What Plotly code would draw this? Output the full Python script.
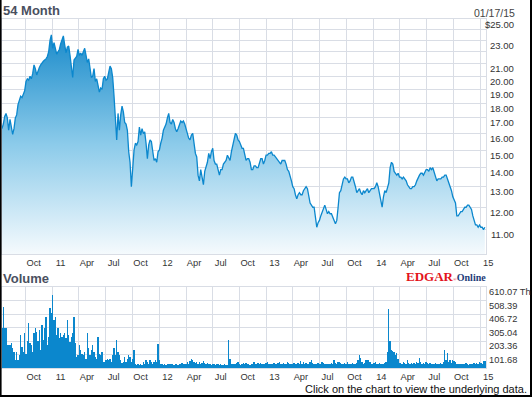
import math
import pandas as pd
import plotly.graph_objects as go

# ---------------- data ----------------
date_start = "2010-07-12"
date_end = "2015-01-17"

price = [
    16.3, 16.6, 17.1, 17.3, 17.0, 16.2, 16.9, 16.3, 15.95, 16.3,
    17.0, 17.2, 17.9, 18.2, 18.5, 18.4, 18.6, 18.9, 19.6, 19.8,
    19.7, 20.0, 19.8, 20.2, 20.9, 20.6, 20.1, 20.5, 20.7, 20.9,
    21.1, 21.2, 21.3, 21.4, 21.6, 22.0, 23.0, 23.5, 22.3, 22.8,
    22.3, 21.8, 22.0, 22.2, 22.7, 23.1, 23.4, 22.6, 21.9, 22.4,
    22.5, 21.7, 20.5, 19.9, 21.3, 21.5, 21.6, 22.2, 21.7, 21.9,
    21.7, 22.0, 22.3, 21.7, 21.1, 21.4, 20.4, 19.9, 20.0, 20.6,
    19.6, 19.8, 19.3, 18.8, 19.1, 19.0, 19.8, 20.0, 19.7, 19.8,
    20.3, 20.8, 20.6, 19.9, 18.5, 16.5, 15.6, 17.3, 16.2, 17.2,
    17.8, 17.4, 16.7, 16.6, 16.2, 14.9, 14.3, 13.0, 14.1, 15.0,
    15.4, 15.3, 15.5, 16.4, 15.9, 16.3, 16.0, 16.1, 15.4, 14.5,
    15.3, 15.6, 15.5, 15.0, 14.4, 14.5, 14.3, 14.9, 15.0, 15.4,
    15.7, 16.2,
    16.4, 16.6, 17.0, 17.3, 16.7, 16.6, 16.9, 16.7, 16.3, 16.1,
    16.3, 16.6, 16.8, 16.7, 16.8, 16.6, 16.3, 15.9, 15.7, 15.6,
    15.9, 16.0, 15.4, 14.8, 14.6, 13.6, 13.3, 13.9, 13.5, 13.1,
    13.8, 14.0, 14.3, 14.8, 14.5, 14.9, 15.1, 14.4, 14.2, 14.2,
    13.9, 13.6, 13.9, 13.9, 14.2, 14.3, 14.4, 14.7, 14.5, 14.4,
    14.9, 15.3, 15.7, 16.0, 15.9, 15.6, 15.5, 15.3, 15.1, 15.1,
    14.8, 14.4, 14.5, 14.5, 14.3, 13.9, 13.9, 14.1, 14.1, 14.0,
    14.0, 14.3, 14.5, 14.5, 14.2, 14.4, 14.7, 14.7, 14.8, 14.8,
    14.9, 14.7, 14.7, 14.6, 14.5, 14.4, 14.3, 14.2, 14.4, 14.4,
    14.4, 14.2, 13.9, 13.8, 13.6, 13.3, 13.0, 12.9, 12.6, 12.4,
    12.6, 12.7, 12.6, 12.6, 12.8, 12.9, 13.0, 12.9, 12.5, 12.2,
    12.1, 12.0, 12.0, 11.6, 11.1, 11.3, 11.4, 11.6, 11.8, 12.0,
    12.1,
    11.9, 11.7, 11.8, 11.7, 11.7, 11.5, 11.4, 11.25, 11.4, 12.0,
    12.7, 12.8, 13.2, 13.4, 13.5, 13.4, 13.4, 13.2, 13.3, 13.5,
    13.5, 13.3, 13.0, 12.7, 12.8, 12.9, 12.7, 12.6, 12.8, 12.7,
    12.8, 12.9, 12.7, 12.8, 12.9, 12.9, 12.9, 13.0, 13.2, 13.0,
    12.7, 12.4, 12.0, 12.5, 12.8, 12.7, 12.9, 13.2, 14.0, 14.3,
    14.2, 13.8, 13.7, 13.6, 13.7, 13.5, 13.5, 13.4, 13.5, 13.4,
    13.3, 13.1, 13.0, 12.9, 12.9, 13.0, 13.0, 13.1, 13.3, 13.5,
    13.6, 13.7, 13.7, 13.6, 13.8, 13.9, 13.9, 13.8, 14.0, 13.9,
    14.0, 13.8, 13.5, 13.3, 13.4, 13.4, 13.4, 13.5, 13.5, 13.6,
    13.6, 13.4, 13.2, 13.0, 12.8, 12.5, 12.3, 12.2, 11.6, 11.6,
    11.7, 11.8, 11.8, 11.9, 12.0, 12.0, 12.1, 12.1, 12.0, 11.9,
    11.6, 11.4, 11.2, 11.2, 11.1, 11.2, 11.1, 11.1, 11.0, 11.1,
]

volume = [
    300, 463, 299, 299, 172, 172, 172, 185, 147, 121,
    58, 121, 63, 96, 248, 160, 121, 261, 109, 200,
    337, 185, 172, 121, 261, 299, 273, 200, 286, 134,
    324, 210, 299, 387, 172, 235, 450, 412, 552, 362,
    387, 248, 299, 223, 261, 235, 248, 261, 223, 362,
    248, 197, 235, 261, 382, 185, 83, 96, 172, 134,
    109, 96, 121, 71, 261, 147, 96, 134, 172, 121,
    83, 71, 230, 109, 96, 121, 46, 46, 58, 71,
    58, 71, 46, 96, 147, 96, 210, 121, 96, 58,
    38, 46, 83, 46, 71, 96, 83, 46, 71, 134,
    33, 20, 28, 20, 33, 20, 46, 33, 58, 46,
    33, 58, 46, 33, 46, 58, 46, 180, 58, 28,
    33, 20, 28, 20, 33, 28, 33, 28, 28, 20,
    33, 28, 20, 28, 33, 38, 28, 33, 28, 46,
    33, 53, 71, 63, 46, 38, 46, 33, 46, 33,
    38, 53, 38, 28, 38, 33, 28, 20, 28, 33,
    20, 28, 28, 20, 28, 20, 20, 28, 20, 20,
    210, 71, 33, 28, 33, 33, 38, 46, 28, 20,
    28, 38, 28, 38, 33, 28, 20, 33, 28, 46,
    33, 28, 38, 28, 38, 28, 33, 28, 38, 46,
    33,
    33, 28, 33, 38, 28, 33, 38, 46, 33, 28,
    38, 33, 28, 46, 38, 28, 33, 28, 38, 33,
    28, 38, 33, 53, 33, 46, 28, 38, 33, 28,
    46, 58, 38, 28, 33, 28, 38, 33, 28, 46,
    38, 28, 33, 28, 33, 28, 38, 33, 58, 38,
    33, 46, 46, 38, 33, 28, 38, 33, 46, 28,
    33, 28, 38, 33, 28, 38, 58, 96, 78, 46,
    33, 38, 58, 58, 58, 46, 33, 28, 38, 46,
    33, 28, 38, 33, 28, 33, 38, 46, 121, 443,
    200, 134, 127, 121, 100, 114, 71, 38, 38, 33,
    46, 38, 33, 58, 38, 33, 38, 28, 38, 33,
    46, 38, 78, 46, 33, 38, 33, 46, 38, 33,
    38, 28, 33, 28, 38, 33, 28, 33, 38, 33,
    46, 134, 58, 114, 46, 58, 38, 63, 53, 46,
    33, 28, 33, 28, 28, 33, 28, 38, 28, 20,
    28, 33, 28, 38, 33, 38, 28, 46, 38, 33,
    50, 53,
]

x_tick_dates = [
    "2010-10-01", "2011-01-01", "2011-04-01", "2011-07-01", "2011-10-01",
    "2012-01-01", "2012-04-01", "2012-07-01", "2012-10-01", "2013-01-01",
    "2013-04-01", "2013-07-01", "2013-10-01", "2014-01-01", "2014-04-01",
    "2014-07-01", "2014-10-01", "2015-01-01",
]
x_tick_text = ["Oct", "11", "Apr", "Jul", "Oct", "12", "Apr", "Jul", "Oct",
               "13", "Apr", "Jul", "Oct", "14", "Apr", "Jul", "Oct", "15"]

price_min, price_max = 10, 25
price_grid = [11, 12, 13, 14, 15, 16, 17, 18, 19, 20, 21, 22, 23, 24, 25]
price_label_vals = [25, 23, 21, 20, 19, 18, 17, 16, 15, 14, 13, 12, 11]
price_label_text = ["$25.00", "23.00", "21.00", "20.00", "19.00", "18.00",
                    "17.00", "16.00", "15.00", "14.00", "13.00", "12.00", "11.00"]

vol_max = 610.07
vol_grid = [0, 101.68, 203.36, 305.04, 406.72, 508.39, 610.07]
vol_label_vals = [610.07, 508.39, 406.72, 305.04, 203.36, 101.68]
vol_label_text = ["610.07 Th", "508.39", "406.72", "305.04", "203.36", "101.68"]

# ---------------- layout geometry ----------------
W, H = 532, 397
PL, PR, PT, PB = 2, 486, 19, 368          # overall plotting region (pixels)
PRICE_BOTTOM, VOL_TOP = 254, 287


def px_x(px):
    return (px - PL) / (PR - PL)


def px_y(py):
    return (PB - py) / (PB - PT)


dates = pd.date_range(date_start, date_end, periods=len(price))
bar_w = (dates[1] - dates[0]).total_seconds() * 1000

GRID = "#d9dde5"
TXT = "#333333"
BLUE = "#0b87cd"
FONT = "Liberation Sans, Arial, sans-serif"

fig = go.Figure()
# baseline at the axis floor so the area fill gradient spans the panel
fig.add_trace(go.Scatter(
    x=dates, y=[price_min] * len(dates), mode="lines",
    line=dict(color="rgba(0,0,0,0)", width=0),
    hoverinfo="skip", xaxis="x", yaxis="y",
))
fig.add_trace(go.Scatter(
    x=dates, y=price, mode="lines",
    line=dict(color=BLUE, width=1.3),
    fill="tonexty",
    fillgradient=dict(type="vertical",
                      colorscale=[[0, "#f5fafd"], [0.5, "#8ccbea"], [1, "#1c8ccb"]]),
    hoverinfo="skip", xaxis="x", yaxis="y",
))
fig.add_trace(go.Bar(
    x=dates, y=volume, width=bar_w,
    marker=dict(color=BLUE, line=dict(width=0)),
    hoverinfo="skip", xaxis="x2", yaxis="y2",
))

axis_common = dict(
    showline=True, linecolor=GRID, linewidth=1, mirror=True,
    showgrid=True, gridcolor=GRID, gridwidth=1, zeroline=False,
    ticks="", fixedrange=True,
)

xr = ["2010-07-12", "2015-01-21"]
fig.update_layout(
    width=W, height=H,
    margin=dict(l=PL, r=W - PR, t=PT, b=H - PB, autoexpand=False),
    paper_bgcolor="white", plot_bgcolor="white",
    showlegend=False, bargap=0,
    font=dict(family=FONT, size=9.3, color=TXT),
    xaxis=dict(axis_common, domain=[0, 1], anchor="y", range=xr, type="date",
               tickvals=x_tick_dates, ticktext=x_tick_text, ticklabelshift=8,
               tickfont=dict(size=9.3, color=TXT)),
    yaxis=dict(axis_common, domain=[px_y(PRICE_BOTTOM), 1], anchor="x", type="log",
               range=[math.log10(price_min), math.log10(price_max)], tickvals=price_grid,
               showticklabels=False),
    xaxis2=dict(axis_common, domain=[0, 1], anchor="y2", range=xr, type="date",
                tickvals=x_tick_dates, ticktext=x_tick_text, ticklabelshift=8,
                tickfont=dict(size=9.3, color=TXT)),
    yaxis2=dict(axis_common, domain=[0, px_y(VOL_TOP)], anchor="x2",
                range=[0, vol_max], tickvals=vol_grid, showticklabels=False),
)

ann = []
for v, t in zip(price_label_vals, price_label_text):
    ann.append(dict(x=px_x(516), y=math.log10(v), xref="paper", yref="y",
                    text=t, showarrow=False, xanchor="right", yanchor="middle",
                    yshift=-5, font=dict(size=9.5, color=TXT, family=FONT)))
for v, t in zip(vol_label_vals, vol_label_text):
    ann.append(dict(x=px_x(487), y=v, xref="paper", yref="y2",
                    text=t, showarrow=False, xanchor="left", yanchor="middle",
                    yshift=-5, font=dict(size=9.3, color=TXT, family=FONT)))

ann += [
    dict(x=px_x(1), y=px_y(10), xref="paper", yref="paper", text="<b>54 Month</b>",
         showarrow=False, xanchor="left", yanchor="middle",
         font=dict(size=13, color="#4a5060", family=FONT)),
    dict(x=px_x(1), y=px_y(278), xref="paper", yref="paper", text="<b>Volume</b>",
         showarrow=False, xanchor="left", yanchor="middle",
         font=dict(size=13, color="#4a5060", family=FONT)),
    dict(x=px_x(517), y=px_y(13), xref="paper", yref="paper", text="01/17/15",
         showarrow=False, xanchor="right", yanchor="middle",
         font=dict(size=10.5, color="#444444", family=FONT)),
    dict(x=px_x(404), y=px_y(276), xref="paper", yref="paper",
         text=("<span style='color:#e3141b'><b>EDGAR</b></span>"
               "<span style='font-size:5px;color:#e3141b'>®</span>"
               "<span style='color:#1d3c78;font-size:10px'><b>Online</b></span>"),
         showarrow=False, xanchor="left", yanchor="middle",
         font=dict(size=13, family="Liberation Serif, Times New Roman, serif")),
    dict(x=px_x(529), y=px_y(389), xref="paper", yref="paper",
         text="Click on the chart to view the underlying data.",
         showarrow=False, xanchor="right", yanchor="middle",
         font=dict(size=11, color="#111111", family=FONT)),
]
fig.update_layout(annotations=ann)

# outer black frame (left, right, bottom)
shapes = [
    dict(type="rect", xref="paper", yref="paper", x0=px_x(0), x1=px_x(1.6),
         y0=px_y(H), y1=px_y(0), fillcolor="black", line=dict(width=0), layer="above"),
    dict(type="rect", xref="paper", yref="paper", x0=px_x(530), x1=px_x(532),
         y0=px_y(H), y1=px_y(0), fillcolor="black", line=dict(width=0), layer="above"),
    dict(type="rect", xref="paper", yref="paper", x0=px_x(0), x1=px_x(532),
         y0=px_y(H), y1=px_y(395), fillcolor="black", line=dict(width=0), layer="above"),
]
fig.update_layout(shapes=shapes)

fig.write_html("out.html", config={"displayModeBar": False, "staticPlot": True},
               post_script="document.body.style.margin='0';document.body.style.overflow='hidden';")
